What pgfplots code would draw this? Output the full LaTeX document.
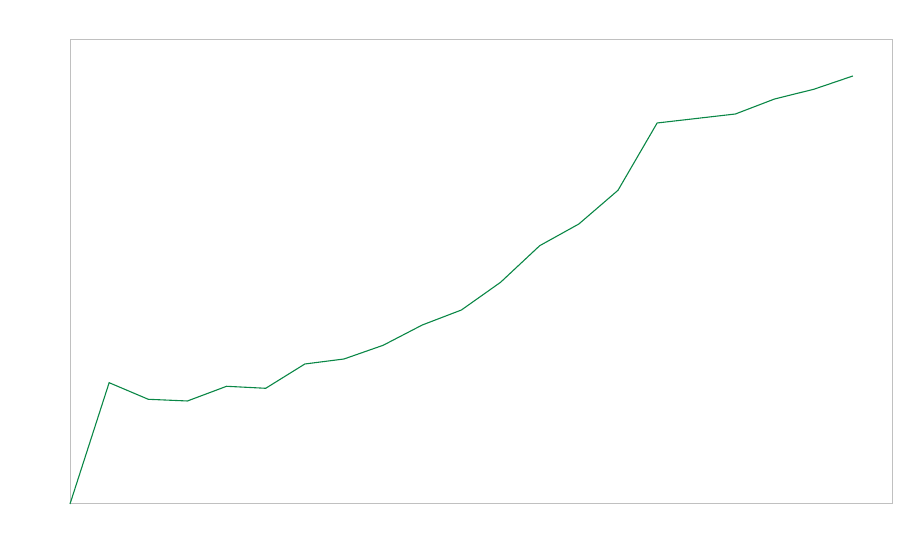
\documentclass[border=0pt]{standalone}
\usepackage{pgfplots}
\pgfplotsset{compat=1.18}
\definecolor{linegreen}{RGB}{10,135,70}
\definecolor{framegray}{RGB}{192,192,192}
\begin{document}
\begin{tikzpicture}
\useasboundingbox (0,0) rectangle (450pt,280pt);
\begin{axis}[
  at={(35pt,28pt)}, anchor=south west,
  scale only axis, width=411pt, height=232pt,
  xmin=0, xmax=21, ymin=0, ymax=464,
  ticks=none,
  axis line style={draw=framegray, line width=0.5pt},
  clip=false,
]
\addplot[linegreen, line width=0.55pt, mark=none] coordinates {
(0,0) (1,121.3) (2,104.7) (3,103) (4,117.7) (5,115.7) (6,140) (7,145)
(8,158.7) (9,179) (10,194) (11,221.7) (12,258.3) (13,280) (14,313.7)
(15,381) (16,385.5) (17,390) (18,405) (19,414.7) (20,428)
};
\end{axis}
\end{tikzpicture}
\end{document}
